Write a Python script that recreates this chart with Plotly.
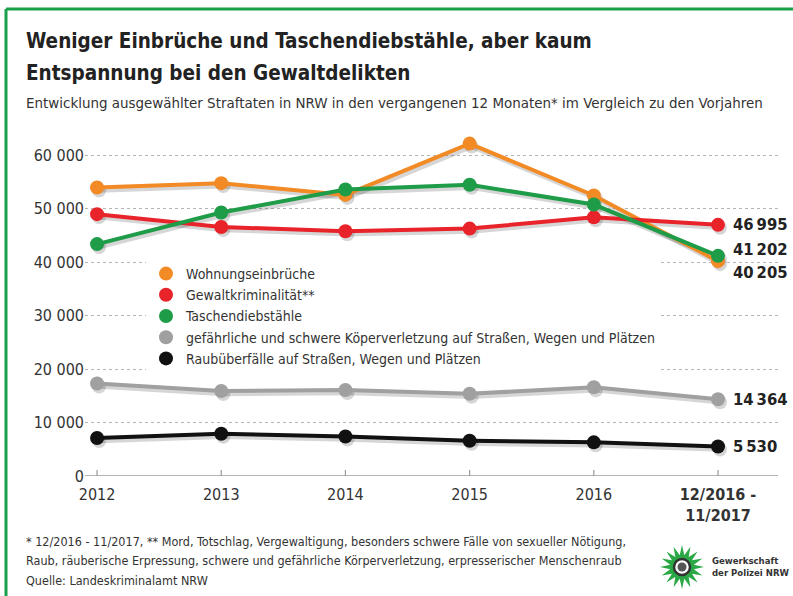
import math
import plotly.graph_objects as go

# ---------------- data ----------------
categories = ["2012", "2013", "2014", "2015", "2016", "12/2016 -<br>11/2017"]
wohnungseinbrueche = [54000, 54800, 52600, 62200, 52500, 40205]
gewaltkriminalitaet = [49000, 46600, 45800, 46300, 48400, 46995]
taschendiebstaehle = [43400, 49300, 53600, 54500, 50800, 41202]
koerperverletzung = [17300, 15900, 16100, 15400, 16600, 14364]
raubueberfaelle = [7100, 7900, 7400, 6600, 6300, 5530]
y_ticks = [0, 10000, 20000, 30000, 40000, 50000, 60000]

series = [
    ("gefährliche und schwere Köperverletzung auf Straßen, Wegen und Plätzen", koerperverletzung, "#a0a0a0"),
    ("Raubüberfälle auf Straßen, Wegen und Plätzen", raubueberfaelle, "#111111"),
    ("Wohnungseinbrüche", wohnungseinbrueche, "#f28a25"),
    ("Gewaltkriminalität**", gewaltkriminalitaet, "#e8232a"),
    ("Taschendiebstähle", taschendiebstaehle, "#1f9c48"),
]
legend_order = [2, 3, 4, 0, 1]
end_label_shift = {"Wohnungseinbrüche": -11, "Taschendiebstähle": 6}

FONT = "Noto Sans Condensed, DejaVu Sans Condensed, sans-serif"
TXT = "#333333"

W, H = 793, 596
L, R, T, B = 85, 15, 134, 120
PW, PH = W - L - R, H - T - B


def pxx(px):
    return (px - L) / PW


def pxy(py):
    return (H - B - py) / PH


def f(size, color=TXT, bold=False, family=FONT):
    d = dict(family=family, size=size, color=color)
    if bold:
        d["weight"] = "bold"
    return d


xi = list(range(len(categories)))
x_range = [-0.097, 5.483]
y_range = [0, 64000]
sdx = 2 * (x_range[1] - x_range[0]) / PW
sdy = 3 * (y_range[1] - y_range[0]) / PH

fig = go.Figure()

for name, vals, col in series:
    fig.add_trace(go.Scatter(
        x=[v + sdx for v in xi], y=[v - sdy for v in vals], mode="lines+markers",
        line=dict(color="rgba(0,0,0,0.16)", width=4.5),
        marker=dict(size=14, color="rgba(0,0,0,0.16)"),
        showlegend=False, hoverinfo="skip", cliponaxis=False))

for name, vals, col in series:
    fig.add_trace(go.Scatter(
        x=xi, y=vals, mode="lines+markers", name=name,
        line=dict(color=col, width=4),
        marker=dict(size=14, color=col),
        showlegend=False, cliponaxis=False))

for k in legend_order:
    name, vals, col = series[k]
    fig.add_trace(go.Scatter(
        x=[None], y=[None], mode="markers", name=name,
        marker=dict(size=14, color=col), showlegend=True))

annotations = []
for name, vals, col in series:
    annotations.append(dict(
        x=xi[-1], y=vals[-1], xref="x", yref="y",
        text=f"{vals[-1]:,}".replace(",", "\u2009"),
        showarrow=False, xanchor="left", yanchor="middle",
        xshift=13, yshift=end_label_shift.get(name, 0),
        font=f(16.5, "#222222", True)))

annotations += [
    dict(x=pxx(24), y=pxy(41), xref="paper", yref="paper", xanchor="left", yanchor="middle",
         text="Weniger Einbrüche und Taschendiebstähle, aber kaum", showarrow=False,
         font=f(20.5, "#222222", True)),
    dict(x=pxx(24), y=pxy(73), xref="paper", yref="paper", xanchor="left", yanchor="middle",
         text="Entspannung bei den Gewaltdelikten", showarrow=False,
         font=f(20.5, "#222222", True)),
    dict(x=pxx(24), y=pxy(103), xref="paper", yref="paper", xanchor="left", yanchor="middle",
         text="Entwicklung ausgewählter Straftaten in NRW in den vergangenen 12 Monaten* im Vergleich zu den Vorjahren",
         showarrow=False, font=f(14.95)),
]

foot = [
    "* 12/2016 - 11/2017, ** Mord, Totschlag, Vergewaltigung, besonders schwere Fälle von sexueller Nötigung,",
    "Raub, räuberische Erpressung, schwere und gefährliche Körperverletzung, erpresserischer Menschenraub",
    "Quelle: Landeskriminalamt NRW",
]
for i, line in enumerate(foot):
    annotations.append(dict(
        x=pxx(24), y=pxy(541 + i * 19.5), xref="paper", yref="paper",
        xanchor="left", yanchor="middle", text=line, showarrow=False,
        font=f(12.5)))

annotations.append(dict(
    x=pxx(710), y=pxy(566), xref="paper", yref="paper", xanchor="left", yanchor="middle",
    text="Gewerkschaft<br>der Polizei NRW", showarrow=False, align="left",
    font=f(9.5, "#333333", True)))

pts = []
n = 16
for i in range(2 * n):
    r = 22 if i % 2 == 0 else 12
    a = math.pi * i / n - math.pi / 2
    pts.append((r * math.cos(a), r * math.sin(a)))
star_path = "M " + " L ".join(f"{x:.1f},{-y:.1f}" for x, y in pts) + " Z"

shapes = [
    dict(type="line", xref="paper", yref="paper", x0=pxx(6), x1=pxx(W + 5), y0=pxy(9), y1=pxy(9),
         line=dict(color="#1aa04a", width=3)),
    dict(type="line", xref="paper", yref="paper", x0=pxx(6), x1=pxx(6), y0=pxy(9), y1=pxy(H + 5),
         line=dict(color="#1aa04a", width=3)),
    dict(type="path", xref="paper", yref="paper", xsizemode="pixel", ysizemode="pixel",
         xanchor=pxx(682), yanchor=pxy(567), path=star_path,
         fillcolor="#2aa845", line=dict(width=0)),
    dict(type="circle", xref="paper", yref="paper", xsizemode="pixel", ysizemode="pixel",
         xanchor=pxx(682), yanchor=pxy(567), x0=-8, x1=8, y0=-8, y1=8,
         fillcolor="#ffffff", line=dict(color="#333333", width=2.5)),
    dict(type="circle", xref="paper", yref="paper", xsizemode="pixel", ysizemode="pixel",
         xanchor=pxx(682), yanchor=pxy(567), x0=-4.5, x1=4.5, y0=-4.5, y1=4.5,
         fillcolor="#555555", line=dict(width=0)),
]

fig.update_layout(
    width=W, height=H,
    margin=dict(l=L, r=R, t=T, b=B),
    paper_bgcolor="white", plot_bgcolor="white",
    font=f(14),
    showlegend=True,
    legend=dict(x=pxx(146), y=pxy(258), xanchor="left", yanchor="top",
                bgcolor="white", font=f(14),
                tracegroupgap=0, itemwidth=30),
    xaxis=dict(
        range=x_range, tickmode="array", tickvals=xi,
        ticktext=categories[:-1] + ["<b>" + categories[-1].replace("<br>", "</b><br><b>") + "</b>"],
        showgrid=False, zeroline=False, showline=False,
        ticks="", ticklabelstandoff=7, tickfont=f(16)),
    yaxis=dict(
        range=y_range, tickmode="array", tickvals=y_ticks,
        ticktext=[f"{v:,}".replace(",", " ") for v in y_ticks],
        showgrid=True, gridcolor="#b5b5b5", griddash="dot", gridwidth=1,
        zeroline=False, showline=False, ticks="",
        tickfont=f(16)),
    annotations=annotations,
    shapes=shapes,
)

fig.add_hline(y=0, line=dict(color="#9a9a9a", width=1.5), layer="below")
for v in xi:
    fig.add_shape(type="line", xref="x", yref="paper", x0=v, x1=v, y0=0, y1=6 / PH,
                  line=dict(color="#9a9a9a", width=1.2))

fig.write_html("out.html", config={"displayModeBar": False},
               post_script="document.body.style.margin='0';")
